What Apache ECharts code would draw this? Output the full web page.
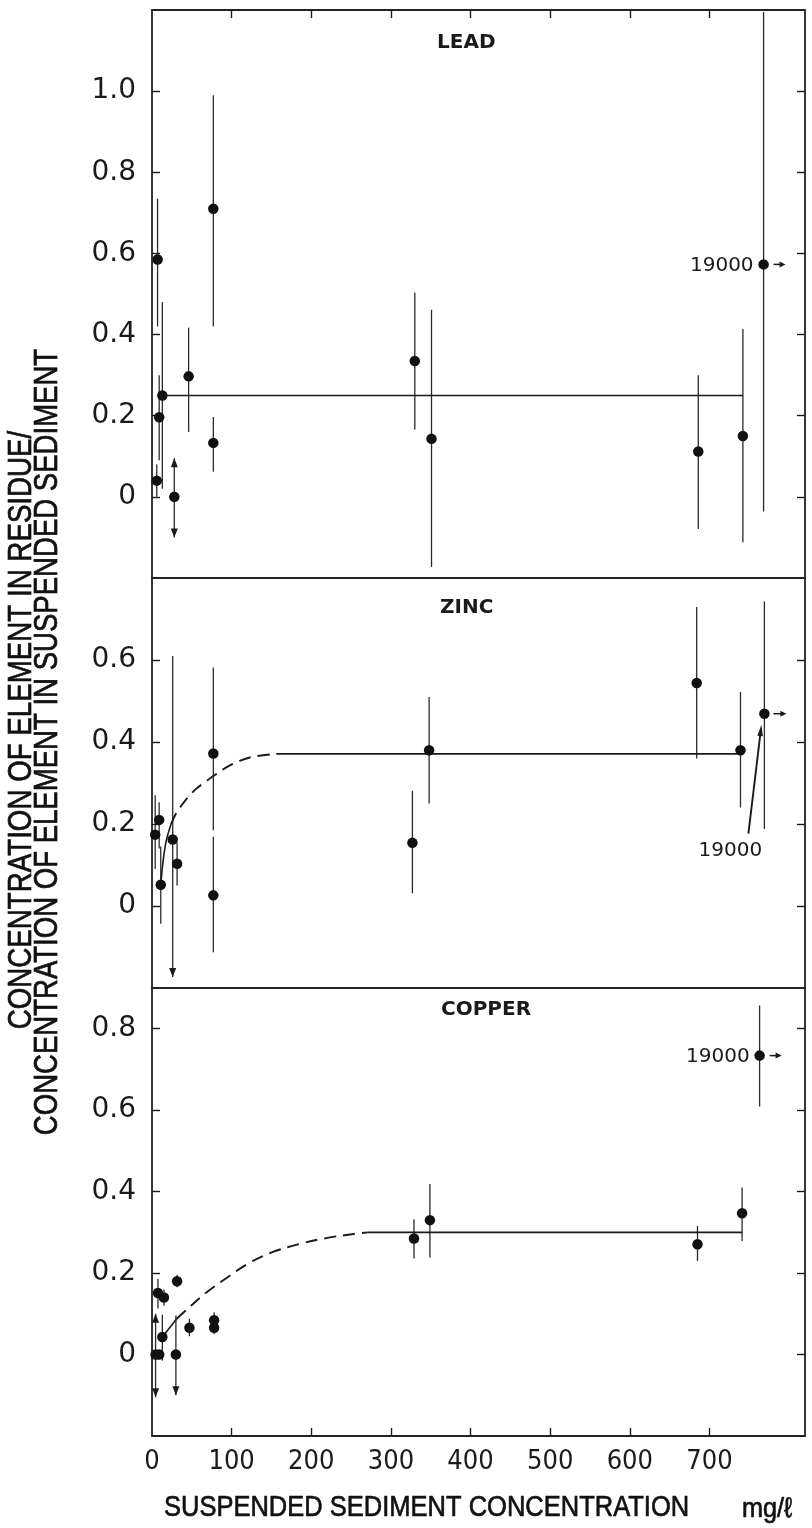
<!DOCTYPE html>
<html>
<head>
<meta charset="utf-8">
<script src="https://cdn.jsdelivr.net/npm/echarts@6/dist/echarts.min.js"></script>
<style>
html,body{margin:0;padding:0;background:#fff;}
#chart{width:812px;height:1528px;}
</style>
</head>
<body>
<div id="chart"></div>
<script>
// ---------- DATA ----------
const xTickValues = [0, 100, 200, 300, 400, 500, 600, 700];
const outlierLabel = '19000';

// LEAD
const leadX  = [6, 7, 9, 13, 28, 46, 77, 77, 330, 351, 686, 742];
const leadY  = [0.04, 0.585, 0.196, 0.25, 0, 0.297, 0.71, 0.133, 0.335, 0.143, 0.112, 0.15];
const leadLo = [0.0, 0.42, 0.09, 0.02, -0.1, 0.16, 0.42, 0.062, 0.166, -0.173, -0.079, -0.112];
const leadHi = [0.08, 0.735, 0.30, 0.48, 0.095, 0.417, 0.99, 0.197, 0.503, 0.461, 0.30, 0.414];
const leadArrow = [0, 0, 0, 0, 3, 0, 0, 0, 0, 0, 0, 0];   // 1 = down arrow, 2 = up arrow, 3 = both
const leadOutlier = [768, 0.573, -0.036, 1.195];          // x position on plot, y, lo, hi
const leadFit = [[13, 0.25], [742, 0.25]];

// ZINC
const zincX  = [4, 9, 11, 26, 31.5, 77, 77, 327, 348, 684, 739];
const zincY  = [0.174, 0.21, 0.052, 0.162, 0.103, 0.372, 0.026, 0.154, 0.38, 0.544, 0.38];
const zincLo = [0.09, 0.14, -0.043, -0.173, 0.05, 0.185, -0.113, 0.031, 0.25, 0.36, 0.24];
const zincHi = [0.27, 0.253, 0.145, 0.61, 0.155, 0.582, 0.169, 0.281, 0.51, 0.729, 0.522];
const zincArrow = [0, 0, 0, 1, 0, 0, 0, 0, 0, 0, 0];
const zincOutlier = [769, 0.469, 0.188, 0.743];
const zincCurveSolid = [[11, 0.052], [14, 0.11], [18, 0.16], [24, 0.20]];
const zincCurveDash = [[24, 0.20], [30, 0.225], [37, 0.245], [45, 0.265], [55, 0.285], [65, 0.30], [77, 0.317], [95, 0.34], [110, 0.354], [127, 0.364], [156, 0.371]];
const zincFlat = [[156, 0.371], [739, 0.371]];

// COPPER
const copperX  = [4.5, 9, 7.5, 15, 13, 31.5, 30, 47, 78, 78, 329, 349, 685, 741];
const copperY  = [0, 0, 0.151, 0.14, 0.043, 0.18, 0, 0.066, 0.084, 0.066, 0.285, 0.33, 0.271, 0.347];
const copperLo = [-0.105, 0, 0.113, 0.12, -0.015, 0.165, -0.1, 0.045, 0.066, 0.05, 0.236, 0.238, 0.23, 0.279];
const copperHi = [0.1, 0, 0.186, 0.16, 0.098, 0.196, 0.096, 0.088, 0.104, 0.08, 0.332, 0.419, 0.316, 0.41];
const copperArrow = [3, 0, 0, 0, 0, 0, 1, 0, 0, 0, 0, 0, 0, 0];
const copperOutlier = [763, 0.734, 0.609, 0.857];
const copperCurveSolid = [[13, 0.043], [31, 0.088]];
const copperCurveDash = [[31, 0.088], [45, 0.113], [70, 0.155], [95, 0.19], [123, 0.226], [152, 0.252], [186, 0.272], [219, 0.286], [253, 0.296], [271, 0.3]];
const copperFlat = [[271, 0.3], [741, 0.3]];

const panelTitles = ['LEAD', 'ZINC', 'COPPER'];
const yTitle1 = 'CONCENTRATION OF ELEMENT IN RESIDUE/';
const yTitle2 = 'CONCENTRATION OF ELEMENT IN SUSPENDED SEDIMENT';
const xTitle = 'SUSPENDED SEDIMENT CONCENTRATION';
const xUnit = 'mg/ℓ';

// ---------- STYLE ----------
const INK = '#1a1a1a';
const NARROW = '"Liberation Sans Narrow", "DejaVu Sans Condensed", "Liberation Sans", sans-serif';
const TICKFONT = '"DejaVu Sans", sans-serif';

const grids = [
  {left: 152, width: 653, top: 10, height: 568},
  {left: 152, width: 653, top: 578, height: 410},
  {left: 152, width: 653, top: 988, height: 448}
].map(g => Object.assign(g, {show: true, borderColor: '#222', borderWidth: 1.8, backgroundColor: 'transparent'}));

const yRanges = [[-0.2, 1.2], [-0.2, 0.8], [-0.2, 0.9]];
const yLabelVals = [[0, 0.2, 0.4, 0.6, 0.8, 1.0], [0, 0.2, 0.4, 0.6], [0, 0.2, 0.4, 0.6, 0.8]];
const innerTicks = [100, 200, 300, 400, 500, 600, 700];

function hiddenX(gi) {
  return {type: 'value', gridIndex: gi, min: 0, max: 820, axisLine: {show: false, onZero: false}, axisTick: {show: false}, axisLabel: {show: false}, splitLine: {show: false}};
}
const xAxes = [
  hiddenX(0),
  {type: 'value', gridIndex: 0, position: 'top', min: 0, max: 820, axisLine: {show: false, onZero: false}, splitLine: {show: false},
   axisLabel: {show: false}, axisTick: {inside: true, length: 8, lineStyle: {color: INK, width: 1.4}, customValues: innerTicks}},
  hiddenX(1),
  {type: 'value', gridIndex: 2, position: 'bottom', min: 0, max: 820, axisLine: {show: false, onZero: false}, splitLine: {show: false},
   axisTick: {inside: true, length: 8, lineStyle: {color: INK, width: 1.4}, customValues: innerTicks},
   axisLabel: {customValues: xTickValues, margin: 12, fontFamily: NARROW, fontSize: 27, color: INK}}
];

const yAxes = [];
[0, 1, 2].forEach(gi => {
  const base = {type: 'value', gridIndex: gi, min: yRanges[gi][0], max: yRanges[gi][1], splitLine: {show: false}, axisLine: {show: false, onZero: false}};
  yAxes.push(Object.assign({}, base, {position: 'left',
    axisTick: {inside: true, length: 8, lineStyle: {color: INK, width: 1.4}, customValues: yLabelVals[gi]},
    axisLabel: {customValues: yLabelVals[gi], margin: 16, fontFamily: TICKFONT, fontSize: 28, color: INK,
      formatter: v => (Math.abs(v) < 1e-9 ? '0' : v.toFixed(1))}}));
  yAxes.push(Object.assign({}, base, {position: 'right',
    axisTick: {inside: true, length: 8, lineStyle: {color: INK, width: 1.4}, customValues: yLabelVals[gi]},
    axisLabel: {show: false}}));
});

const xIdx = [0, 2, 3];
const yIdx = [0, 2, 4];

function errRender(params, api) {
  const x = api.value(0), lo = api.value(1), hi = api.value(2), ar = api.value(3);
  if (lo === hi) return null;
  const p1 = api.coord([x, lo]), p2 = api.coord([x, hi]);
  const ch = [{type: 'line', shape: {x1: p1[0], y1: p1[1], x2: p2[0], y2: p2[1]}, style: {stroke: '#2a2a2a', lineWidth: 1.3}}];
  if (ar & 1) ch.push({type: 'polygon', shape: {points: [[p1[0] - 3.5, p1[1] - 9], [p1[0] + 3.5, p1[1] - 9], [p1[0], p1[1]]]}, style: {fill: INK}});
  if (ar & 2) ch.push({type: 'polygon', shape: {points: [[p2[0] - 3.5, p2[1] + 9], [p2[0] + 3.5, p2[1] + 9], [p2[0], p2[1]]]}, style: {fill: INK}});
  return {type: 'group', children: ch};
}

function arrowRight(px, py, dx1, dx2) {
  return [
    {type: 'line', shape: {x1: px + dx1, y1: py, x2: px + dx2 - 4, y2: py}, style: {stroke: INK, lineWidth: 1.5}},
    {type: 'polygon', shape: {points: [[px + dx2 - 6, py - 3], [px + dx2 - 6, py + 3], [px + dx2, py]]}, style: {fill: INK}}
  ];
}

function outlierRender(mode) {
  return function (params, api) {
    const p = api.coord([api.value(0), api.value(1)]);
    const ch = [];
    if (mode === 'below') {
      ch.push({type: 'text', style: {text: outlierLabel, x: p[0] - 34, y: p[1] + 137, align: 'center', verticalAlign: 'middle', font: '20px "DejaVu Sans", sans-serif', fill: INK}});
      ch.push({type: 'line', shape: {x1: p[0] - 16, y1: p[1] + 120, x2: p[0] - 4, y2: p[1] + 20}, style: {stroke: INK, lineWidth: 1.9}});
      ch.push({type: 'polygon', shape: {points: [[p[0] - 7, p[1] + 22], [p[0] - 1.5, p[1] + 22.6], [p[0] - 3, p[1] + 11]]}, style: {fill: INK}});
      ch.push(...arrowRight(p[0], p[1], 9, 22));
    } else {
      ch.push({type: 'text', style: {text: outlierLabel, x: p[0] - 10, y: p[1] + 1, align: 'right', verticalAlign: 'middle', font: '20px "DejaVu Sans", sans-serif', fill: INK}});
      ch.push(...arrowRight(p[0], p[1], 10, 22));
    }
    return {type: 'group', children: ch};
  };
}

const panels = [
  {X: leadX, Y: leadY, Lo: leadLo, Hi: leadHi, Ar: leadArrow, out: leadOutlier, mode: 'left', lines: [{d: leadFit, dash: false}]},
  {X: zincX, Y: zincY, Lo: zincLo, Hi: zincHi, Ar: zincArrow, out: zincOutlier, mode: 'below', lines: [{d: zincCurveSolid, dash: false, smooth: true}, {d: zincCurveDash, dash: true, smooth: true}, {d: zincFlat, dash: false}]},
  {X: copperX, Y: copperY, Lo: copperLo, Hi: copperHi, Ar: copperArrow, out: copperOutlier, mode: 'left', lines: [{d: copperCurveSolid, dash: false}, {d: copperCurveDash, dash: true, smooth: true}, {d: copperFlat, dash: false}]}
];

const series = [];
panels.forEach((pn, i) => {
  const errData = pn.X.map((x, k) => [x, pn.Lo[k], pn.Hi[k], pn.Ar[k]]);
  errData.push([pn.out[0], pn.out[2], pn.out[3], 0]);
  series.push({type: 'custom', xAxisIndex: xIdx[i], yAxisIndex: yIdx[i], renderItem: errRender, data: errData, encode: {x: 0, y: [1, 2]}, silent: true, z: 2});
  pn.lines.forEach(l => {
    series.push({type: 'line', xAxisIndex: xIdx[i], yAxisIndex: yIdx[i], data: l.d, symbol: 'none', smooth: l.smooth ? 0.35 : false,
      lineStyle: {color: INK, width: l.dash ? 1.9 : 1.6, type: l.dash ? [12, 7] : 'solid'}, silent: true, z: 3});
  });
  const pts = pn.X.map((x, k) => [x, pn.Y[k]]);
  pts.push([pn.out[0], pn.out[1]]);
  series.push({type: 'scatter', xAxisIndex: xIdx[i], yAxisIndex: yIdx[i], data: pts, symbolSize: 10.5, itemStyle: {color: '#111', opacity: 1}, silent: true, z: 4});
  series.push({type: 'custom', xAxisIndex: xIdx[i], yAxisIndex: yIdx[i], renderItem: outlierRender(pn.mode), data: [[pn.out[0], pn.out[1]]], silent: true, z: 5});
});

const titlePos = [[437, 43], [440, 608], [441, 1010]];
const graphic = panelTitles.map((t, i) => ({type: 'text', x: titlePos[i][0], y: titlePos[i][1],
  style: {text: t, font: 'bold 20px "DejaVu Sans", sans-serif', fill: INK, verticalAlign: 'middle'}}));
const TITLEFONT = '"Liberation Sans", "Arimo", sans-serif';
const heavy = {stroke: '#111', lineWidth: 0.7};
graphic.push({type: 'text', x: 22, y: 730, rotation: Math.PI / 2, scaleX: 0.84,
  style: Object.assign({text: yTitle1, font: '33px ' + TITLEFONT, fill: '#111', align: 'center', verticalAlign: 'middle'}, heavy)});
graphic.push({type: 'text', x: 48, y: 742, rotation: Math.PI / 2, scaleX: 0.835,
  style: Object.assign({text: yTitle2, font: '33px ' + TITLEFONT, fill: '#111', align: 'center', verticalAlign: 'middle'}, heavy)});
graphic.push({type: 'text', x: 164, y: 1508, scaleX: 0.85,
  style: Object.assign({text: xTitle, font: '30px ' + TITLEFONT, fill: '#111', verticalAlign: 'middle'}, heavy)});
graphic.push({type: 'text', x: 742, y: 1509, scaleX: 0.9,
  style: Object.assign({text: xUnit, font: '28px ' + TITLEFONT, fill: '#111', verticalAlign: 'middle'}, heavy)});

const chart = echarts.init(document.getElementById('chart'), null, {renderer: 'canvas'});
chart.setOption({
  backgroundColor: '#ffffff',
  animation: false,
  grid: grids,
  xAxis: xAxes,
  yAxis: yAxes,
  series: series,
  graphic: graphic
});
</script>
</body>
</html>
